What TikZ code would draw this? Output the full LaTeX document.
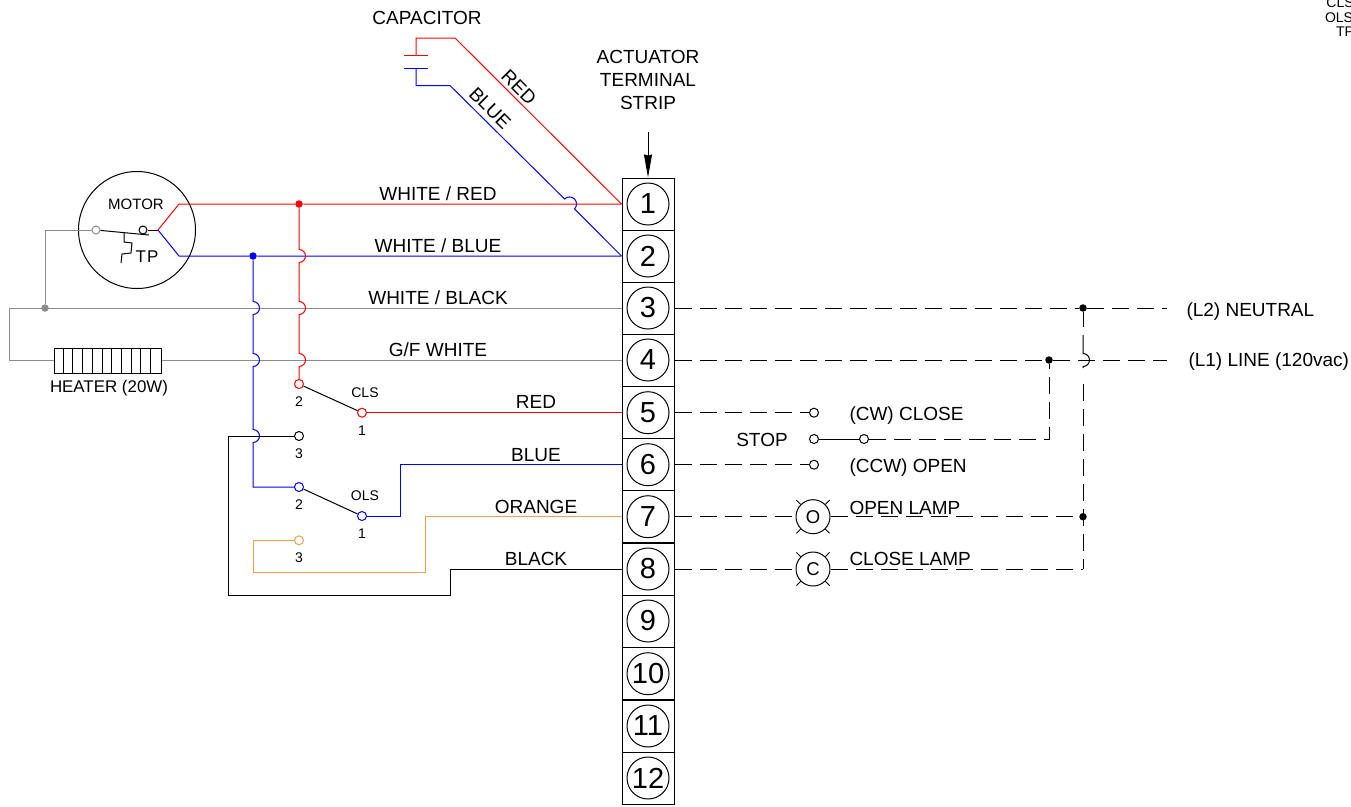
\documentclass[tikz,border=0pt]{standalone}
\usepackage{fontspec}
\setmainfont{Liberation Sans}
\usetikzlibrary{arrows.meta,calc}

\newcommand{\hopdown}[2]{-- (#1,#2-6.5) arc[start angle=90,end angle=-90,radius=6.5pt]}

\begin{document}
\begin{tikzpicture}[x=1pt,y=-1pt,line width=1pt,
            lbl/.style={inner sep=0pt,font=\fontsize{19}{23}\selectfont},
            lblsmall/.style={inner sep=0pt,font=\fontsize{14}{16}\selectfont},
            termbox/.style={draw,rectangle,minimum width=52pt,minimum height=52pt,inner sep=0pt},
            termnum/.style={draw,circle,minimum size=42pt,inner sep=0pt,font=\fontsize{29}{30}\selectfont},
            contact/.style={draw,circle,minimum size=9pt,inner sep=0pt},
            junction/.style={fill,circle,minimum size=7.5pt,inner sep=0pt},
            lamp/.style={draw,circle,minimum size=34pt,inner sep=0pt,font=\fontsize{18.5}{22}\selectfont},
            redwire/.style={red},
            bluewire/.style={blue},
            graywire/.style={color=wiregray},
            orangewire/.style={color=wireorange},
            fieldwire/.style={black,dash pattern=on 17pt off 8pt}]
 \definecolor{wiregray}{HTML}{8C8C8C}
 \definecolor{wireorange}{HTML}{F7A04B}
 \useasboundingbox (0,0) rectangle (1351,806);

 % terminal strip
 \foreach \i/\y in {1/204,2/256,3/308,4/360,5/412.7,6/464.7,7/516.7,8/569,9/621,10/673.7,11/726,12/778} {
   \node[termbox] (tb\i) at (648,\y) {};
   \node[termnum] (tn\i) at (tb\i) {\raisebox{-1.5pt}{\i}};
 }
 \node[lbl,align=center] (strip) at (648,82) {\strut ACTUATOR\\[0pt]\strut TERMINAL\\[0pt]\strut STRIP};
 \coordinate (striparrow) at (648,132);
 \draw[-{Stealth[length=23pt,width=8pt,inset=1pt]}] (striparrow) -- (tb1.north);

 % capacitor
 \node[lbl] (cap) at (427,18) {CAPACITOR};
 \coordinate (capta) at (404,55);
 \coordinate (captb) at (428,55);
 \coordinate (capba) at (404,68);
 \coordinate (capbb) at (428,68);
 \draw[redwire] (capta) -- (captb);
 \draw[bluewire] (capba) -- (capbb);
 \draw[redwire] (416,55) -- (416,38) -- (455,38) -- (tb1.west);
 \draw[bluewire] (416,68) -- (416,85.5) -- (450,85.5) -- (564.6,199)
   arc[start angle=135,end angle=-45,radius=7pt] -- (tb2.west);
 \node[lbl,rotate=-45] (capred) at (519,87) {RED};
 \node[lbl,rotate=-45] (capblue) at (490,108) {BLUE};

 % motor
 \node[draw,circle,minimum size=117pt,inner sep=0pt] (motor) at (137,230) {};
 \node[lblsmall,font=\fontsize{15}{16}\selectfont] (motorl) at (136,204) {MOTOR};
 \node[contact,minimum size=8pt,color=wiregray] (mtl) at (96,230) {};
 \node[contact,minimum size=8pt] (mtr) at (143,230) {};
 \coordinate (mtc) at (158,230);
 \coordinate (tpend) at (149,235);
 \draw (mtl) -- (tpend);
 \draw (mtr) -- (mtc);
 \draw (124,233) -- (124,242) -- (132,243) -- (131,253) -- (122,254) -- (121,263);
 \node[inner sep=0pt,font=\fontsize{17}{18}\selectfont] (tp) at (147,257) {T\kern1pt P};

 % junctions
 \node[junction,color=red] (jr) at (299,204) {};
 \node[junction,color=blue] (jb) at (253,256) {};
 \node[junction,color=wiregray] (jg) at (45,308) {};
 \node[junction] (jn) at (1083,308) {};
 \node[junction] (jl) at (1049,360) {};
 \node[junction] (jo) at (1083,516.7) {};

 % limit switches
 \node[contact,color=red] (cls2) at (299,384) {};
 \node[contact,color=red] (cls1) at (362,412.7) {};
 \node[contact] (cls3) at (299,436) {};
 \node[contact,color=blue] (ols2) at (299,487) {};
 \node[contact,color=blue] (ols1) at (362,516) {};
 \node[contact,color=wireorange] (ols3) at (299,540.3) {};
 \draw (cls2) -- (cls1);
 \draw (ols2) -- (ols1);
 \node[lblsmall] (clsl) at (365,392.5) {CLS};
 \node[lblsmall] (cls1l) at (362,431) {1};
 \node[lblsmall] (cls2l) at (299,402) {2};
 \node[lblsmall] (cls3l) at (299,454) {3};
 \node[lblsmall] (olsl) at (365,495.5) {OLS};
 \node[lblsmall] (ols1l) at (362,534) {1};
 \node[lblsmall] (ols2l) at (299,505) {2};
 \node[lblsmall] (ols3l) at (299,558) {3};

 % wires to the strip
 \draw[graywire] (tb3.west) -- (9,308) -- (9,360) -- (tb4.west);
 \draw[graywire] (jg) -- (45,230) -- (mtl);
 \draw[redwire] (mtc) -- (179,204) -- (jr) -- (tb1.west);
 \draw[bluewire] (mtc) -- (179,256) -- (jb) -- (tb2.west);
 \draw[redwire] (jr) \hopdown{299}{256} \hopdown{299}{308} \hopdown{299}{360} -- (cls2);
 \draw[bluewire] (jb) \hopdown{253}{308} \hopdown{253}{360} \hopdown{253}{436} -- (253,487) -- (ols2);
 \draw[redwire] (cls1) -- (tb5.west);
 \draw[bluewire] (ols1) -- (400,516) -- (400,464.7) -- (tb6.west);
 \draw[orangewire] (ols3) -- (253.3,540.3) -- (253.3,572.7) -- (425,572.7) -- (425,516.7) -- (tb7.west);
 \draw (cls3) -- (228,436) -- (228,595) -- (450,595) -- (450,569) -- (tb8.west);

 % heater
 \node[draw,fill=white,rectangle,minimum width=107pt,minimum height=25pt,inner sep=0pt] (heater) at (107.5,360.5) {};
 \foreach \i in {1,...,10}
   \draw ($(heater.north west)+(9.7*\i,0)$) -- ($(heater.south west)+(9.7*\i,0)$);
 \node[lbl,font=\fontsize{16.9}{20}\selectfont] (heaterl) at (109,388) {HEATER (20W)};

 \node[lbl] (wr) at (438,194) {WHITE / RED};
 \node[lbl] (wb) at (438,246) {WHITE / BLUE};
 \node[lbl] (wk) at (438,298) {WHITE / BLACK};
 \node[lbl] (gf) at (438,350) {G/F WHITE};
 \node[lbl] (rd) at (536,402) {RED};
 \node[lbl] (bl) at (536,455) {BLUE};
 \node[lbl] (og) at (536,507) {ORANGE};
 \node[lbl] (bk) at (536,559) {BLACK};

 % field side
 \node[contact] (cw) at (814,412.7) {};
 \node[contact] (stopa) at (814,439) {};
 \node[contact] (stopb) at (864,439) {};
 \node[contact] (ccw) at (814,464.7) {};
 \node[lamp] (lampo) at (813,516.7) {O};
 \node[lamp] (lampc) at (813,569) {C};
 \foreach \a in {45,135,225,315} {
   \draw[line width=0.8pt] (lampo.\a) -- +(\a:6pt);
   \draw[line width=0.8pt] (lampc.\a) -- +(\a:6pt);
 }
 \coordinate (neutral) at (1167,308);
 \coordinate (line) at (1167,360);
 \draw (stopa) -- (stopb);
 \draw[fieldwire] (tb3.east) -- (jn) -- (neutral);
 \draw[fieldwire] (tb4.east) -- (jl) -- (line);
 \draw[fieldwire] (tb5.east) -- (cw);
 \draw[fieldwire] (tb6.east) -- (ccw);
 \draw[fieldwire] (tb7.east) -- (lampo);
 \draw[fieldwire] (tb8.east) -- (lampc);
 \draw[fieldwire] (lampo) -- (jo);
 \coordinate (cornerc) at (1083,569);
 \draw[fieldwire] (lampc) -- (cornerc);
 \draw (jn) -- (1083,327);
 \draw (1083,335) \hopdown{1083}{360} -- (1083,368);
 \draw[fieldwire] (1083,384) -- (cornerc);
 \draw[fieldwire] (stopb) -- (1049,439) -- (jl);

 \node[lbl,anchor=west] (cwl) at (849,415.5) {(CW) CLOSE};
 \node[lbl] (stopl) at (762,439.5) {STOP};
 \node[lbl,anchor=west] (ccwl) at (849,467.5) {(CCW) OPEN};
 \node[lbl,anchor=west] (lampol) at (849,508) {OPEN LAMP};
 \node[lbl,anchor=west] (lampcl) at (849,559) {CLOSE LAMP};
 \node[lbl,anchor=west] (l2) at (1186,311.5) {(L2) NEUTRAL};
 \node[lbl,anchor=west] (l1) at (1188,361.5) {(L1) LINE (120vac)};

 % legend, cut by the page edge
 \node[lblsmall] (lega) at (1340,3) {CLS};
 \node[lblsmall] (legb) at (1339,17.5) {OLS};
 \node[lblsmall] (legc) at (1345,32) {TP};
\end{tikzpicture}
\end{document}
